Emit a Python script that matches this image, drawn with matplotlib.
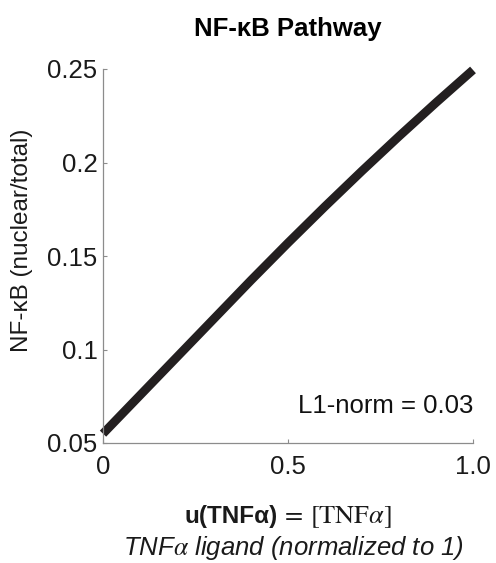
import matplotlib
matplotlib.use("Agg")
import matplotlib.pyplot as plt

plt.rcParams['font.family'] = ['Liberation Sans', 'DejaVu Sans']
plt.rcParams['mathtext.fontset'] = 'stix'

# TNFa dose (normalized) vs. nuclear NF-kB fraction
tnf_dose = [0.0, 0.1, 0.2, 0.3, 0.4, 0.5, 0.6, 0.7, 0.8, 0.9, 1.0]
nfkb_frac = [0.055, 0.0755, 0.096, 0.1165, 0.137, 0.157, 0.1765, 0.1955, 0.214, 0.232, 0.2495]

x_ticks = [0.0, 0.5, 1.0]
x_ticklabels = ["0", "0.5", "1.0"]
y_ticks = [0.05, 0.10, 0.15, 0.20, 0.25]
y_ticklabels = ["0.05", "0.1", "0.15", "0.2", "0.25"]
l1_norm = 0.03

W, H = 496, 563
fig = plt.figure(figsize=(W / 100, H / 100), dpi=100)
ax = fig.add_axes([103 / W, 1 - 443 / H, (473 - 103) / W, (443 - 69) / H])

ax.plot(tnf_dose, nfkb_frac, color='#231f20', lw=6.3, solid_capstyle='butt',
        solid_joinstyle='round', clip_on=False)

ax.set_xlim(0, 1)
ax.set_ylim(0.05, 0.25)
ax.set_xticks(x_ticks)
ax.set_xticklabels(x_ticklabels)
ax.set_yticks(y_ticks)
ax.set_yticklabels(y_ticklabels)

for side in ('top', 'right'):
    ax.spines[side].set_visible(False)
for side in ('left', 'bottom'):
    ax.spines[side].set_color('#8c8c8c')
    ax.spines[side].set_linewidth(0.9)

ax.tick_params(direction='in', length=3, width=0.8, color='#8c8c8c',
               labelsize=18.5, labelcolor='#1a1a1a')
ax.tick_params(axis='y', pad=4)
ax.tick_params(axis='x', pad=9)

ax.text(1.0, 0.1, f"L1-norm = {l1_norm:.2f}", transform=ax.transAxes,
        ha='right', va='center', fontsize=18.5, color='#111111')

fig.text(288 / W, 1 - 29 / H, "NF-\u03baB Pathway", ha='center', va='center',
         fontsize=18.5, fontweight='bold', color='black')

fig.text(22 / W, 1 - 240 / H, "NF-\u03baB (nuclear/total)", rotation=90,
         ha='center', va='center', fontsize=17.5, color='#1a1a1a')

# Two-part x label: bold symbol, then the serif definition
fig.canvas.draw()
renderer = fig.canvas.get_renderer()
part1 = fig.text(0, 1 - 517 / H, "u(TNF\u03b1)", ha='left', va='center',
                 fontsize=17.5, fontweight='bold', color='#1a1a1a')
part2 = fig.text(0, 1 - 517 / H, r"$\,=\,[\mathrm{TNF}\alpha]$", ha='left', va='center',
                 fontsize=19, color='#1a1a1a')
w1 = part1.get_window_extent(renderer).width
w2 = part2.get_window_extent(renderer).width
start = 288 - (w1 + w2) / 2
part1.set_x(start / W)
part2.set_x((start + w1) / W)

fig.text(293 / W, 1 - 548 / H, r"TNF$\alpha$ ligand (normalized to 1)", ha='center',
         va='center', fontsize=18.5, style='italic', color='#1a1a1a')

fig.savefig("out.png", dpi=100)
